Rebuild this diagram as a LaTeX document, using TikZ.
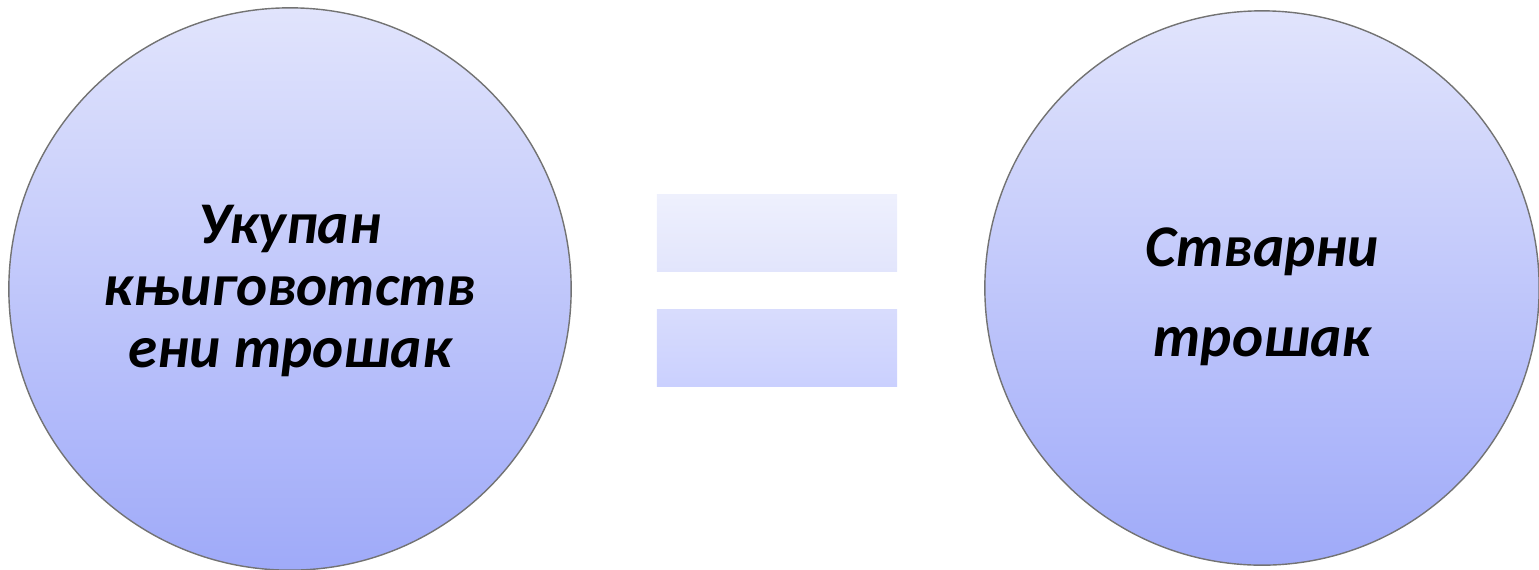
\documentclass[tikz,border=0pt]{standalone}
\usepackage{fontspec}
\setmainfont{Carlito}
\usepackage{xcolor}
\usetikzlibrary{calc}
\definecolor{circtop}{RGB}{225,228,252}
\definecolor{circbot}{RGB}{159,170,249}
\definecolor{eqtopA}{RGB}{238,240,253}
\definecolor{eqbotA}{RGB}{226,229,252}
\definecolor{eqtopB}{RGB}{216,220,253}
\definecolor{eqbotB}{RGB}{202,208,254}
\tikzset{
  costcircle/.style={circle, draw=black!55, thin, shading=axis, top color=circtop,
    bottom color=circbot, inner sep=0pt},
  costtext/.style={align=center, inner sep=0pt, font=\bfseries\itshape},
  eqbar/.style={rectangle, draw=none, minimum width=2.4cm, minimum height=0.76cm,
    inner sep=0pt}
}
\begin{document}
\begin{tikzpicture}[x=0.01cm, y=-0.01cm]
  \useasboundingbox (0,0) rectangle (1539,569);
  % left and right circles
  \node[costcircle, minimum size=5.62cm] (booked) at (290,289) {};
  \node[costcircle, minimum size=5.54cm] (actual) at (1262,288) {};
  \node[costtext, font=\bfseries\itshape\fontsize{16.8}{17.6}\selectfont]
    (bookedtxt) at ($(booked.center)+(0,2)$) {Укупан\\књиговотств\\ени трошак};
  \node[costtext, font=\bfseries\itshape\fontsize{16.8}{25.6}\selectfont]
    (actualtxt) at ($(actual.center)+(0,9)$) {Стварни\\трошак};
  % equals sign
  \node[eqbar, shading=axis, top color=eqtopA, bottom color=eqbotA] (eqtop) at (777,233) {};
  \node[eqbar, shading=axis, top color=eqtopB, bottom color=eqbotB] (eqbot) at (777,348) {};
\end{tikzpicture}
\end{document}
